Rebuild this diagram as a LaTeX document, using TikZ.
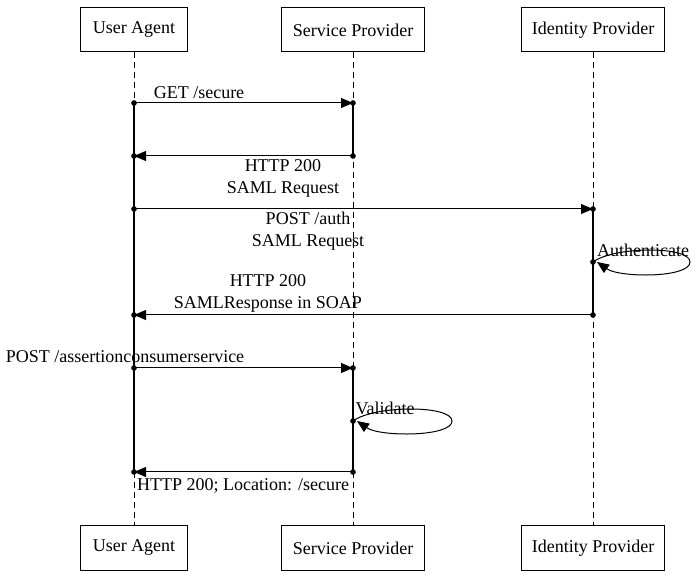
\documentclass[tikz,border=0pt]{standalone}
\usepackage{fontspec}
\setmainfont{Liberation Serif}
\usetikzlibrary{arrows.meta}
\begin{document}
\begin{tikzpicture}[x=1pt,y=-1pt,font=\fontsize{18}{22}\selectfont,line width=1pt,
  actor/.style={draw,minimum height=44pt,inner xsep=10pt},
  life/.style={dashed,dash pattern=on 6pt off 4pt},
  act/.style={line width=2.2pt},
  msg/.style={-{Triangle[length=12pt,width=10pt]}},
  dot/.style={circle,fill,inner sep=2pt},
  lbl/.style={align=center,inner sep=1pt}]
\useasboundingbox (0,0) rectangle (697,577);
\node[actor,minimum width=107pt] (ua1) at (134,30) {User Agent};
\node[actor,minimum width=143pt] (sp1) at (353,30) {Service Provider};
\node[actor,minimum width=143pt] (ip1) at (593,30) {Identity Provider};
\node[actor,minimum width=107pt] (ua2) at (134,548) {User Agent};
\node[actor,minimum width=143pt] (sp2) at (353,548) {Service Provider};
\node[actor,minimum width=143pt] (ip2) at (593,548) {Identity Provider};
\draw[life] (ua1) -- (ua2);
\draw[life] (sp1) -- (sp2);
\draw[life] (ip1) -- (ip2);
% coordinates
\coordinate (u1) at (134,103); \coordinate (s1) at (353,103);
\coordinate (s2) at (353,156); \coordinate (u2) at (134,156);
\coordinate (u3) at (134,209); \coordinate (i3) at (593,209);
\coordinate (i4) at (593,262); \coordinate (i4b) at (597,262);
\coordinate (i5) at (593,315); \coordinate (u5) at (134,315);
\coordinate (u6) at (134,368); \coordinate (s6) at (353,368);
\coordinate (s7) at (353,421); \coordinate (s7b) at (357,421);
\coordinate (s8) at (353,472); \coordinate (u8) at (134,472);
% activations
\draw[act] (u1) -- (u8);
\draw[act] (s1) -- (s2);
\draw[act] (s6) -- (s8);
\draw[act] (i3) -- (i5);
% messages
\draw[msg] (u1) -- (s1);
\node[lbl] (l1) at (199,93) {GET /secure};
\draw[msg] (s2) -- (u2);
\node[lbl] (l2) at (283,178) {HTTP 200\\SAML Request};
\draw[msg] (u3) -- (i3);
\node[lbl] (l3) at (308,231) {POST /auth\\SAML Request};
\draw[msg] (i4) .. controls (615,246) and (690,246) .. (690,262) .. controls (690,278) and (620,278) .. (i4b);
\node[lbl] (l4) at (643,250) {Authenticate};
\draw[msg] (i5) -- (u5);
\node[lbl] (l5) at (268,293) {HTTP 200\\SAMLResponse in SOAP};
\draw[msg] (u6) -- (s6);
\node[lbl] (l6) at (125,357) {POST /assertionconsumerservice};
\draw[msg] (s7) .. controls (375,405) and (452,405) .. (452,421) .. controls (452,437) and (380,437) .. (s7b);
\node[lbl] (l7) at (385,408) {Validate};
\draw[msg] (s8) -- (u8);
\node[lbl] (l8) at (243,486) {HTTP 200; Location: /secure};
% dots
\foreach \p in {u1,s1,s2,u2,u3,i3,i4,i5,u5,u6,s6,s7,s8,u8}
  \node[dot] at (\p) {};
\end{tikzpicture}
\end{document}
